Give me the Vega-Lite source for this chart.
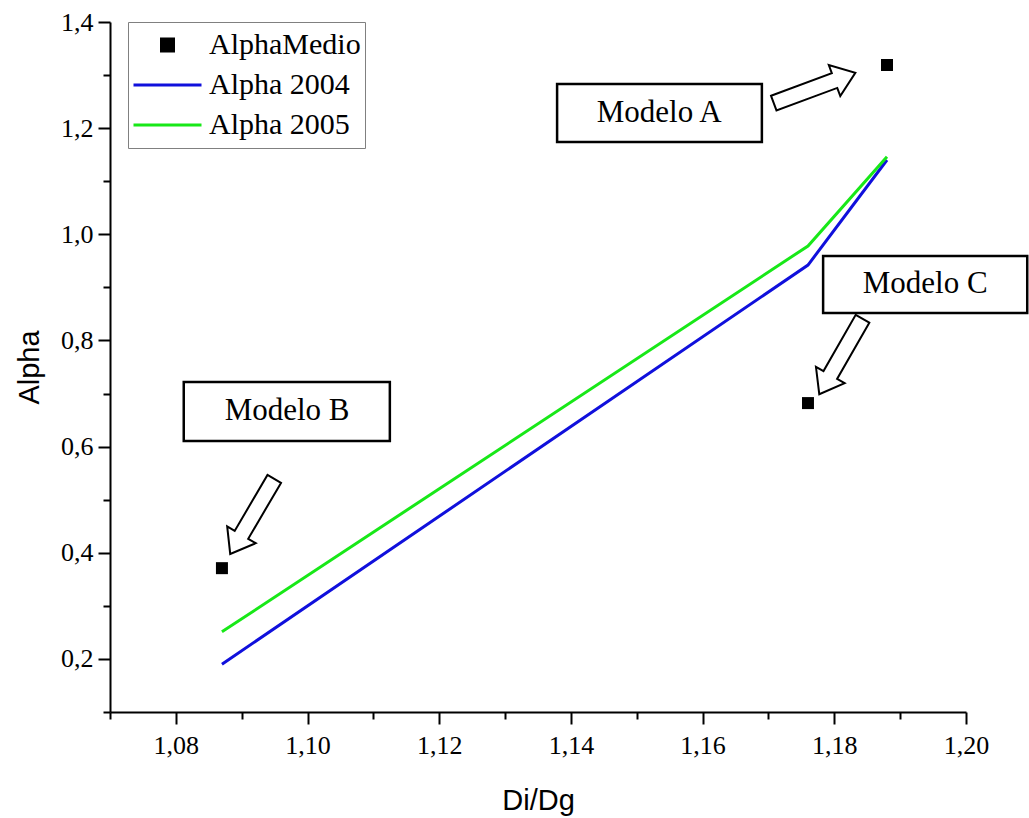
{
  "$schema": "https://vega.github.io/schema/vega-lite/v6.json",
  "width": 856,
  "height": 690,
  "autosize": {"type": "none"},
  "padding": {"left": 110, "top": 22, "right": 63, "bottom": 106},
  "background": "white",
  "config": {
    "view": {"stroke": null},
    "axis": {
      "grid": false,
      "domainColor": "black",
      "domainWidth": 2,
      "tickColor": "black",
      "tickWidth": 2,
      "labelColor": "black",
      "titleColor": "black",
      "labelFont": "Liberation Serif",
      "labelFontSize": 26,
      "titleFont": "Liberation Sans",
      "titleFontSize": 29,
      "titleFontWeight": "normal"
    }
  },
  "datasets": {
    "medio": [
      {"DiDg": 1.087, "Alpha": 0.371, "serie": "AlphaMedio"},
      {"DiDg": 1.176, "Alpha": 0.682, "serie": "AlphaMedio"},
      {"DiDg": 1.188, "Alpha": 1.319, "serie": "AlphaMedio"}
    ],
    "curvas": [
      {"DiDg": 1.087, "Alpha": 0.19, "serie": "Alpha 2004"},
      {"DiDg": 1.176, "Alpha": 0.942, "serie": "Alpha 2004"},
      {"DiDg": 1.188, "Alpha": 1.14, "serie": "Alpha 2004"},
      {"DiDg": 1.087, "Alpha": 0.251, "serie": "Alpha 2005"},
      {"DiDg": 1.176, "Alpha": 0.978, "serie": "Alpha 2005"},
      {"DiDg": 1.188, "Alpha": 1.146, "serie": "Alpha 2005"}
    ],
    "cuadros": [
      {"label": "Modelo A", "xa": 1.1379, "xb": 1.169, "ya": 1.1739, "yb": 1.2832, "tx": 1.1534, "ty": 1.2286},
      {"label": "Modelo B", "xa": 1.0812, "xb": 1.1125, "ya": 0.6106, "yb": 0.7218, "tx": 1.0969, "ty": 0.6662},
      {"label": "Modelo C", "xa": 1.1783, "xb": 1.2093, "ya": 0.8518, "yb": 0.9592, "tx": 1.1938, "ty": 0.9055}
    ]
  },
  "layer": [
    {
      "data": {"name": "curvas"},
      "mark": {"type": "line", "strokeWidth": 3},
      "encoding": {
        "x": {
          "field": "DiDg",
          "type": "quantitative",
          "scale": {"domain": [1.07, 1.2], "nice": false, "zero": false},
          "axis": {
            "title": "Di/Dg",
            "values": [1.07, 1.08, 1.09, 1.1, 1.11, 1.12, 1.13, 1.14, 1.15, 1.16, 1.17, 1.18, 1.19, 1.2],
            "labelExpr": "round(datum.value*100) % 2 === 0 ? replace(format(datum.value, '.2f'), '.', ',') : ''",
            "tickSize": {"condition": {"test": "round(datum.value*100) % 2 === 0", "value": 12}, "value": 7},
            "labelPadding": 8,
            "titlePadding": 28,
            "labelFlush": false,
            "labelOverlap": false
          }
        },
        "y": {
          "field": "Alpha",
          "type": "quantitative",
          "scale": {"domain": [0.1, 1.4], "nice": false, "zero": false},
          "axis": {
            "title": "Alpha",
            "values": [0.1, 0.2, 0.3, 0.4, 0.5, 0.6, 0.7, 0.8, 0.9, 1.0, 1.1, 1.2, 1.3, 1.4],
            "labelExpr": "round(datum.value*10) % 2 === 0 ? replace(format(datum.value, '.1f'), '.', ',') : ''",
            "tickSize": {"condition": {"test": "round(datum.value*10) % 2 === 0", "value": 12}, "value": 7},
            "labelPadding": 5,
            "titlePadding": 16,
            "labelFlush": false,
            "labelOverlap": false
          }
        },
        "color": {
          "field": "serie",
          "type": "nominal",
          "scale": {"domain": ["AlphaMedio", "Alpha 2004", "Alpha 2005"], "range": ["#000000", "#1010dc", "#18e818"]},
          "legend": {
            "title": null,
            "orient": "none",
            "legendX": 18,
            "legendY": 0,
            "padding": 4,
            "strokeColor": "#808080",
            "fillColor": "white",
            "symbolSize": 4624,
            "clipHeight": 38,
            "rowPadding": 2,
            "symbolOffset": 0,
            "labelOffset": 6,
            "labelFont": "Liberation Serif",
            "labelFontSize": 30,
            "labelColor": "black",
            "labelLimit": 400,
            "encode": {
              "symbols": {
                "update": {
                  "shape": {"signal": "datum.value === 'AlphaMedio' ? 'square' : 'stroke'"},
                  "size": {"signal": "datum.value === 'AlphaMedio' ? 144 : 4624"},
                  "fill": {"signal": "datum.value === 'AlphaMedio' ? 'black' : 'transparent'"},
                  "stroke": {"signal": "datum.value === 'AlphaMedio' ? 'transparent' : scale('color', datum.value)"},
                  "strokeWidth": {"value": 3},
                  "opacity": {"value": 1}
                }
              }
            }
          }
        }
      }
    },
    {
      "data": {"name": "medio"},
      "mark": {"type": "point", "shape": "square", "filled": true, "size": 144, "opacity": 1},
      "encoding": {
        "x": {"field": "DiDg", "type": "quantitative"},
        "y": {"field": "Alpha", "type": "quantitative"},
        "color": {"field": "serie", "type": "nominal"}
      }
    },
    {
      "data": {"name": "cuadros"},
      "mark": {"type": "rect", "fill": "white", "stroke": "black", "strokeWidth": 2.5},
      "encoding": {
        "x": {"field": "xa", "type": "quantitative"},
        "x2": {"field": "xb"},
        "y": {"field": "ya", "type": "quantitative"},
        "y2": {"field": "yb"}
      }
    },
    {
      "data": {"name": "cuadros"},
      "mark": {"type": "text", "font": "Liberation Serif", "fontSize": 31, "color": "black", "align": "center", "baseline": "middle"},
      "encoding": {
        "x": {"field": "tx", "type": "quantitative"},
        "y": {"field": "ty", "type": "quantitative"},
        "text": {"field": "label"}
      }
    },
    {
      "data": {"values": [{"objetivo": "Modelo A", "cx": 1.177, "cy": 1.2757}]},
      "mark": {"type": "point", "shape": "M -1 -0.18 L 0.49 -0.18 L 0.49 -0.38 L 1 0 L 0.49 0.38 L 0.49 0.18 L -1 0.18 Z", "size": 7569, "angle": 339.7, "filled": true, "fill": "white", "stroke": "black", "strokeWidth": 2, "opacity": 1, "fillOpacity": 1, "strokeOpacity": 1},
      "encoding": {
        "x": {"field": "cx", "type": "quantitative"},
        "y": {"field": "cy", "type": "quantitative"}
      }
    },
    {
      "data": {"values": [{"objetivo": "Modelo B", "cx": 1.0916, "cy": 0.4684}]},
      "mark": {"type": "point", "shape": "M -1 -0.18 L 0.49 -0.18 L 0.49 -0.38 L 1 0 L 0.49 0.38 L 0.49 0.18 L -1 0.18 Z", "size": 7569, "angle": 120.4, "filled": true, "fill": "white", "stroke": "black", "strokeWidth": 2, "opacity": 1, "fillOpacity": 1, "strokeOpacity": 1},
      "encoding": {
        "x": {"field": "cx", "type": "quantitative"},
        "y": {"field": "cy", "type": "quantitative"}
      }
    },
    {
      "data": {"values": [{"objetivo": "Modelo C", "cx": 1.181, "cy": 0.7698}]},
      "mark": {"type": "point", "shape": "M -1 -0.18 L 0.49 -0.18 L 0.49 -0.38 L 1 0 L 0.49 0.38 L 0.49 0.18 L -1 0.18 Z", "size": 7569, "angle": 119.8, "filled": true, "fill": "white", "stroke": "black", "strokeWidth": 2, "opacity": 1, "fillOpacity": 1, "strokeOpacity": 1},
      "encoding": {
        "x": {"field": "cx", "type": "quantitative"},
        "y": {"field": "cy", "type": "quantitative"}
      }
    }
  ]
}
